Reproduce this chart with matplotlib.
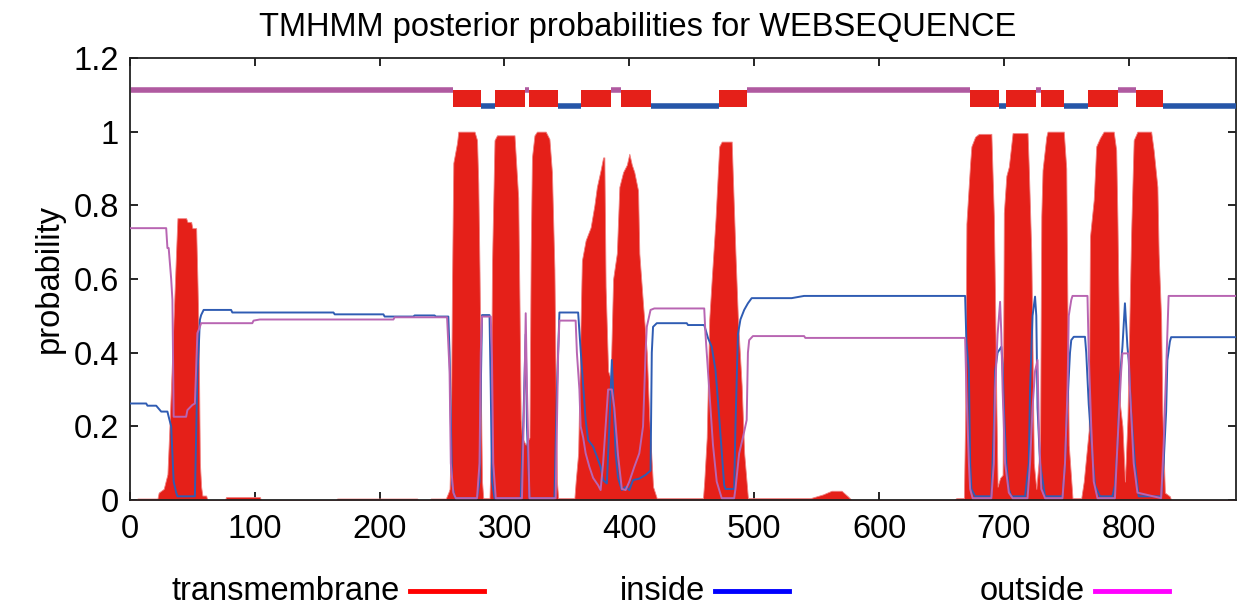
import matplotlib
matplotlib.use("Agg")
import matplotlib.pyplot as plt
from matplotlib.lines import Line2D
from matplotlib.ticker import FuncFormatter

plt.rcParams['font.family'] = ['Liberation Sans', 'DejaVu Sans']

SEQ_LEN = 886

# posterior probability profiles, (residue, probability) vertices
tm_prob = [
    (0, 0), (5, 0), (6, 0.004), (22, 0.004), (23, 0.02), (27, 0.03), (30, 0.07),
    (32, 0.23), (35, 0.5), (37, 0.68), (38, 0.765), (45, 0.765), (46, 0.755),
    (49, 0.755), (50, 0.738), (53, 0.738), (54, 0.6), (55, 0.44), (56, 0.1),
    (57, 0.036), (58, 0.012), (61, 0.012), (62, 0), (76, 0), (77, 0.008),
    (104, 0.008), (105, 0), (165, 0), (166, 0.004), (230, 0.004), (231, 0),
    (240, 0), (241, 0.004), (253, 0.004), (255, 0.02),
    (256, 0.03), (257, 0.17), (258, 0.6), (259, 0.915), (262, 0.97), (263, 1.0),
    (276, 1.0), (278, 0.977), (279, 0.86), (280, 0.62), (281, 0.31), (282, 0.05),
    (283, 0.005), (288, 0.005), (289, 0.13), (290, 0.64), (292, 0.977), (294, 0.99),
    (308, 0.99), (311, 0.82), (312, 0.54), (313, 0.22), (314, 0.17), (317, 0.15),
    (320, 0.17), (321, 0.67), (322, 0.93), (324, 0.99), (326, 1.0), (333, 1.0),
    (336, 0.98), (338, 0.89), (340, 0.625), (341, 0.31), (342, 0.05), (343, 0.005),
    (356, 0.005), (357, 0.05), (359, 0.127), (361, 0.49), (362, 0.65), (365, 0.705),
    (369, 0.74), (372, 0.80), (374, 0.85), (377, 0.896), (379, 0.93), (380, 0.93),
    (381, 0.58), (383, 0.35), (385, 0.33), (387, 0.6), (390, 0.67), (392, 0.85),
    (395, 0.89), (398, 0.91), (400, 0.94), (402, 0.91), (404, 0.89), (407, 0.84),
    (408, 0.67), (411, 0.53), (414, 0.40), (416, 0.22), (419, 0.036), (422, 0.005),
    (459, 0.005), (460, 0.05), (462, 0.17), (464, 0.49), (466, 0.6), (469, 0.76),
    (471, 0.896), (472, 0.96), (474, 0.973), (482, 0.973), (483, 0.87), (485, 0.67),
    (487, 0.49), (490, 0.31), (492, 0.127), (495, 0.005), (545, 0.005), (555, 0.015),
    (562, 0.025), (570, 0.025), (575, 0.01), (578, 0), (660, 0), (662, 0.005),
    (668, 0.005), (669, 0.22), (670, 0.75), (673, 0.915), (674, 0.96), (677, 0.986),
    (680, 0.994), (690, 0.994), (692, 0.77), (693, 0.535), (694, 0.26), (695, 0.036),
    (697, 0.06), (699, 0.068), (700, 0.78), (702, 0.88), (704, 0.905), (707, 0.996),
    (719, 0.996), (720, 0.9), (722, 0.67), (723, 0.40), (724, 0.1), (726, 0.03),
    (729, 0.15), (730, 0.77), (731, 0.896), (734, 0.986), (735, 1.0), (748, 1.0),
    (750, 0.9), (751, 0.49), (752, 0.15), (755, 0.005), (762, 0.005), (764, 0.05),
    (768, 0.19), (769, 0.715), (772, 0.815), (774, 0.96), (777, 0.983), (780, 1.0),
    (788, 1.0), (790, 0.95), (791, 0.76), (793, 0.26), (795, 0.2), (797, 0.05),
    (799, 0.22), (802, 0.73), (804, 0.977), (807, 1.0), (818, 1.0), (820, 0.95),
    (823, 0.85), (824, 0.67), (826, 0.49), (827, 0.236), (829, 0.02), (833, 0.01),
    (834, 0), (886, 0),
]

inside_prob = [
    (0, 0.262), (13, 0.262), (14, 0.256), (21, 0.256), (23, 0.248), (25, 0.24),
    (30, 0.24), (31, 0.226), (33, 0.2), (35, 0.05), (37, 0.02), (38, 0.01),
    (52, 0.01), (53, 0.18), (54, 0.344), (55, 0.407), (56, 0.489), (57, 0.502),
    (59, 0.516), (81, 0.516), (82, 0.509), (163, 0.509), (164, 0.504), (203, 0.504),
    (204, 0.498), (227, 0.498), (228, 0.501), (244, 0.501), (245, 0.498), (255, 0.498),
    (256, 0.40), (257, 0.226), (258, 0.045), (260, 0.01), (261, 0.005), (278, 0.005),
    (280, 0.05), (281, 0.3), (282, 0.502), (288, 0.502), (289, 0.3), (290, 0.05),
    (292, 0.005), (313, 0.005), (315, 0.2), (317, 0.45), (318, 0.2), (320, 0.005),
    (340, 0.005), (342, 0.3), (344, 0.509), (359, 0.509), (361, 0.407), (363, 0.31),
    (365, 0.217), (367, 0.163), (371, 0.145), (374, 0.118), (377, 0.09), (379, 0.054),
    (382, 0.045), (384, 0.2), (386, 0.38), (387, 0.3), (389, 0.127), (391, 0.06),
    (394, 0.027), (397, 0.036), (400, 0.027), (403, 0.054), (408, 0.058), (413, 0.068),
    (417, 0.08), (418, 0.4), (419, 0.47), (422, 0.48), (446, 0.48), (447, 0.475),
    (460, 0.475), (463, 0.44), (466, 0.416), (469, 0.353), (471, 0.27), (474, 0.13),
    (476, 0.04), (477, 0.03), (484, 0.03), (485, 0.2), (487, 0.45), (489, 0.49),
    (492, 0.516), (495, 0.534), (498, 0.548), (530, 0.548), (540, 0.554), (669, 0.554),
    (670, 0.43), (672, 0.35), (673, 0.1), (674, 0.03), (677, 0.01), (690, 0.01),
    (692, 0.2), (693, 0.35), (695, 0.4), (698, 0.416), (699, 0.37), (700, 0.25),
    (702, 0.1), (704, 0.03), (706, 0.01), (717, 0.01), (720, 0.1), (721, 0.3),
    (723, 0.5), (725, 0.552), (726, 0.5), (727, 0.25), (729, 0.1), (733, 0.01),
    (747, 0.01), (749, 0.1), (750, 0.2), (752, 0.33), (753, 0.4), (754, 0.434),
    (756, 0.443), (765, 0.443), (766, 0.4), (768, 0.26), (771, 0.12), (773, 0.04),
    (777, 0.01), (787, 0.01), (789, 0.04), (791, 0.15), (793, 0.33), (795, 0.416),
    (797, 0.534), (799, 0.416), (800, 0.38), (802, 0.24), (805, 0.1), (808, 0.01),
    (826, 0.01), (828, 0.1), (830, 0.24), (831, 0.38), (833, 0.43), (834, 0.442),
    (886, 0.442),
]

outside_prob = [
    (0, 0.738), (29, 0.738), (30, 0.684), (31, 0.684), (33, 0.6), (34, 0.543),
    (35, 0.226), (45, 0.226), (46, 0.244), (50, 0.258), (52, 0.262), (54, 0.453),
    (56, 0.47), (57, 0.48), (98, 0.48), (99, 0.487), (104, 0.49), (211, 0.49),
    (212, 0.496), (254, 0.496), (256, 0.35), (257, 0.1), (259, 0.02), (261, 0.005),
    (278, 0.005), (280, 0.1), (281, 0.4), (282, 0.498), (289, 0.498), (290, 0.38),
    (291, 0.1), (293, 0.005), (314, 0.005), (316, 0.3), (317, 0.507), (318, 0.3),
    (320, 0.005), (341, 0.005), (343, 0.4), (344, 0.487), (357, 0.487), (358, 0.4),
    (360, 0.3), (361, 0.2), (363, 0.17), (365, 0.127), (368, 0.09), (371, 0.06),
    (375, 0.04), (377, 0.027), (379, 0.1), (383, 0.3), (386, 0.3), (388, 0.25),
    (391, 0.12), (394, 0.03), (397, 0.027), (400, 0.05), (404, 0.09), (408, 0.127),
    (411, 0.2), (413, 0.4), (414, 0.47), (417, 0.516), (420, 0.52), (460, 0.52),
    (461, 0.45), (462, 0.40), (464, 0.3), (467, 0.15), (470, 0.05), (474, 0.005),
    (484, 0.005), (485, 0.03), (488, 0.127), (491, 0.17), (494, 0.217), (495, 0.4),
    (496, 0.434), (499, 0.445), (540, 0.445), (541, 0.44), (669, 0.44), (670, 0.3),
    (672, 0.1), (673, 0.03), (675, 0.005), (690, 0.005), (692, 0.1), (693, 0.3),
    (695, 0.45), (697, 0.538), (698, 0.45), (699, 0.3), (701, 0.1), (704, 0.02),
    (707, 0.005), (719, 0.005), (721, 0.1), (723, 0.25), (725, 0.35), (727, 0.38),
    (728, 0.2), (730, 0.03), (733, 0.005), (747, 0.005), (749, 0.1), (751, 0.3),
    (752, 0.5), (754, 0.543), (755, 0.554), (767, 0.554), (768, 0.4), (770, 0.2),
    (772, 0.05), (775, 0.005), (789, 0.005), (791, 0.15), (794, 0.35), (795, 0.398),
    (800, 0.398), (801, 0.3), (804, 0.1), (807, 0.02), (826, 0.005), (828, 0.15),
    (830, 0.35), (832, 0.554), (886, 0.554),
]

# predicted topology (start, end residue)
tm_segments = [(259, 281), (293, 316), (320, 342), (362, 385), (394, 417), (472, 494),
               (673, 696), (702, 725), (730, 748), (768, 791), (806, 827)]
inside_segments = [(282, 292), (343, 361), (418, 471), (697, 701), (749, 767), (828, 886)]
outside_segments = [(1, 258), (317, 319), (386, 393), (495, 672), (726, 729), (792, 805)]

x_ticks = [0, 100, 200, 300, 400, 500, 600, 700, 800]
y_ticks = [0, 0.2, 0.4, 0.6, 0.8, 1.0, 1.2]
legend_labels = ["transmembrane", "inside", "outside"]

RED = '#e52019'
BLUE = '#2f5cb3'
MAGENTA = '#b865b2'

fig = plt.figure(figsize=(12.45, 6.09), dpi=100)
ax = fig.add_axes([0.1044, 0.179, 0.8884, 0.7258])

tx, ty = zip(*tm_prob)
ax.fill_between(tx, ty, 0, color=RED, lw=0.6, edgecolor='#f08080', zorder=2)

ix, iy = zip(*inside_prob)
ax.plot(ix, iy, color=BLUE, lw=1.4, zorder=3)
ox, oy = zip(*outside_prob)
ax.plot(ox, oy, color=MAGENTA, lw=1.4, zorder=3)

# topology bar above the curves
for s, e in outside_segments:
    ax.plot([s - 0.5, e + 0.5], [1.112, 1.112], color='#b05aa0', lw=4, solid_capstyle='butt', zorder=3)
for s, e in inside_segments:
    ax.plot([s - 0.5, e + 0.5], [1.07, 1.07], color='#2656a8', lw=4, solid_capstyle='butt', zorder=3)
ax.broken_barh([(s - 0.5, e - s + 1) for s, e in tm_segments], (1.066, 0.048),
               facecolor=RED, edgecolor='none', zorder=4)

ax.set_xlim(0, SEQ_LEN)
ax.set_ylim(0, 1.2)
ax.set_xticks(x_ticks)
ax.set_yticks(y_ticks)
ax.yaxis.set_major_formatter(FuncFormatter(lambda v, p: '%g' % v))
ax.tick_params(direction='in', length=6, width=1.2, labelsize=23.5,
               top=True, right=True, color='black')
ax.tick_params(axis='x', pad=10)
ax.tick_params(axis='y', pad=8)
for sp in ax.spines.values():
    sp.set_linewidth(1.3)
    sp.set_color('#222222')

ax.set_ylabel("probability", fontsize=23.5, labelpad=6)
fig.text(0.512, 0.955, "TMHMM posterior probabilities for WEBSEQUENCE",
         ha='center', va='center', fontsize=23.5)

# legend row along the bottom
legend_colors = ['#ff0000', '#0000ff', '#ff00ff']
text_right = [400, 705, 1085]
for label, col, xr in zip(legend_labels, legend_colors, text_right):
    fig.text(xr / 1245, 0.029, label, ha='right', va='center', fontsize=23.5)
    fig.add_artist(Line2D([(xr + 10) / 1245, (xr + 84) / 1245], [0.029, 0.029],
                          color=col, lw=3.5, transform=fig.transFigure))

fig.savefig("out.png", dpi=100)
